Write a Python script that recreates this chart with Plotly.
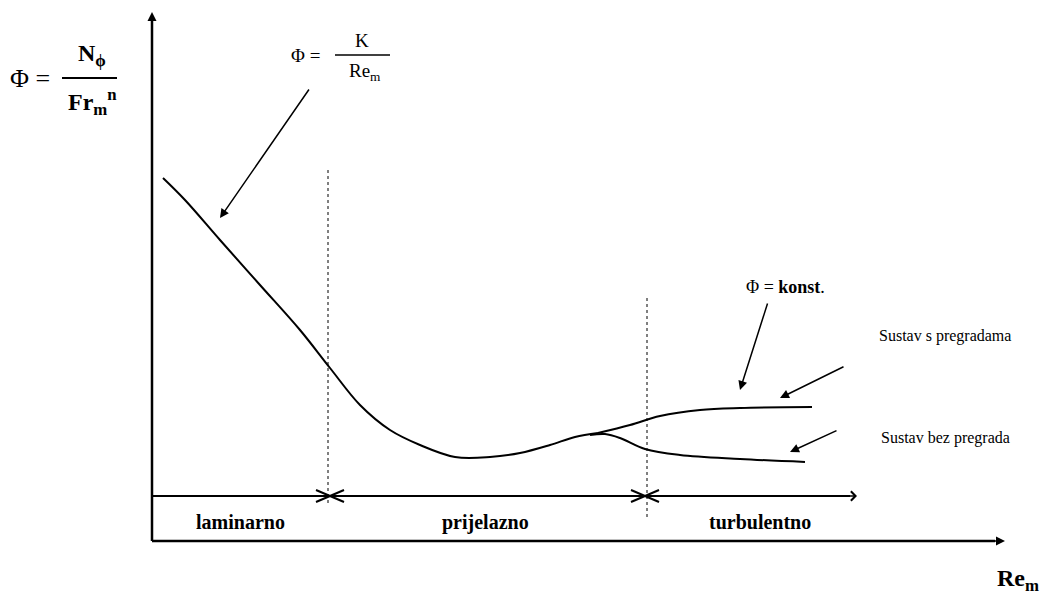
import plotly.graph_objects as go

# schematic coordinates (picture space: x right, y down)
main_x = [163, 185, 220, 260, 300, 330, 360, 390, 420, 455, 490, 520, 550, 575, 598]
main_y = [178, 200, 240, 285, 330, 368, 405, 430, 445, 457, 457, 453, 445, 437, 433]
upper_x = [598, 630, 660, 700, 740, 812]
upper_y = [433, 425, 416, 410, 408, 407]
lower_x = [590, 605, 620, 645, 680, 740, 805]
lower_y = [435, 434, 438, 449, 455, 459, 462]

regions = ["laminarno", "prijelazno", "turbulentno"]
region_x = [240, 485, 760]
boundary_x = [330, 645]

SERIF = "Liberation Serif"
fig = go.Figure()
for xs, ys in [(main_x, main_y), (upper_x, upper_y), (lower_x, lower_y)]:
    fig.add_trace(go.Scatter(x=xs, y=ys, mode="lines", line=dict(color="black", width=2),
                             line_shape="spline", hoverinfo="skip"))

shapes = []
def line(x0, y0, x1, y1, w=2, dash="solid"):
    shapes.append(dict(type="line", x0=x0, y0=y0, x1=x1, y1=y1,
                       line=dict(color="black", width=w, dash=dash)))

line(152, 541, 995, 541, 2.5)
line(152, 541, 152, 20, 2.5)
line(152, 496, 850, 496, 2)
line(328, 170, 328, 505, 1, "dot")
line(647, 298, 647, 520, 1, "dot")
for bx in boundary_x:
    line(bx - 14, 490, bx + 14, 502, 2)
    line(bx - 14, 502, bx + 14, 490, 2)
# fraction bars
line(62, 78, 117, 78, 2)
line(335, 55, 390, 55, 1.5)

fig.update_layout(shapes=shapes)

ann = []
def text(x, y, t, size=18, bold=True):
    ann.append(dict(x=x, y=y, text=f"<b>{t}</b>" if bold else t, showarrow=False,
                    font=dict(family=SERIF, size=size, color="black")))
def arrow(x0, y0, x1, y1, head=2):
    ann.append(dict(x=x1, y=y1, ax=x0, ay=y0, axref="x", ayref="y", text="",
                    showarrow=True, arrowhead=head, arrowsize=1.2, arrowwidth=1.5,
                    arrowcolor="black"))

for t, x in zip(regions, region_x):
    text(x, 522, t, 20)
text(1018, 580, "Re<sub>m</sub>", 24)
text(30, 78, "Φ =", 26, False)
text(92, 55, "N<sub>ϕ</sub>", 24)
text(92, 102, "Fr<sub>m</sub><sup>n</sup>", 24)
text(305, 55, "Φ =", 19, False)
text(362, 40, "K", 19, False)
text(365, 72, "Re<sub>m</sub>", 19, False)
text(785, 287, "Φ = <b>konst</b>.", 18, False)
text(945, 336, "Sustav s pregradama", 16, False)
text(945, 438, "Sustav bez pregrada", 16, False)

arrow(310, 88, 220, 218)
arrow(768, 302, 740, 390)
arrow(845, 366, 780, 398)
arrow(838, 430, 790, 452)
# axis arrowheads
arrow(152, 60, 152, 12, 2)
arrow(950, 541, 1005, 541, 2)
arrow(800, 496, 857, 496, 4)
fig.update_layout(annotations=ann)

# page body has an 8px margin, so the figure starts at (8, 8)
fig.update_layout(width=1044, height=592, margin=dict(l=0, r=0, t=0, b=0),
                  plot_bgcolor="white", paper_bgcolor="white", showlegend=False,
                  xaxis=dict(range=[8, 1052], visible=False),
                  yaxis=dict(range=[600, 8], visible=False))
fig.write_html("out.html")
